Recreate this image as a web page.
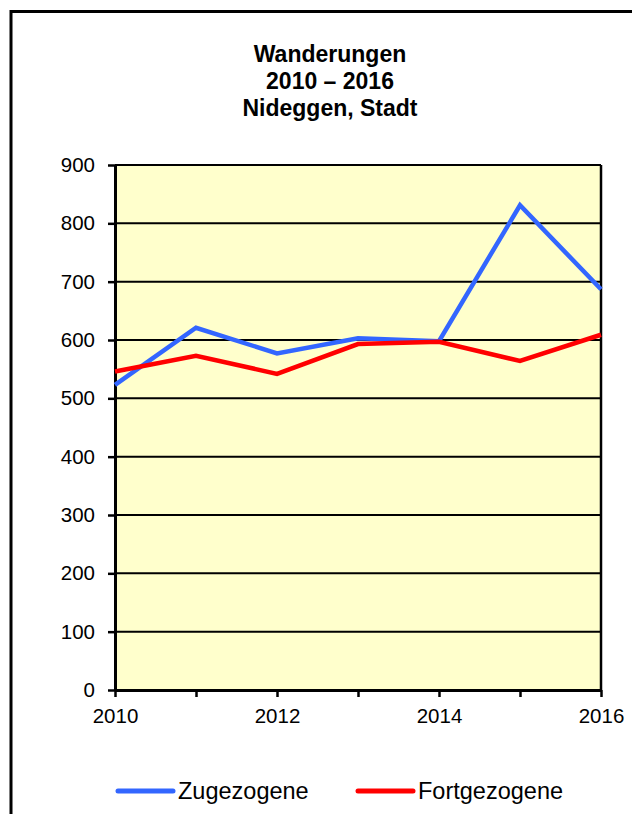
<!DOCTYPE html>
<html>
<head>
<meta charset="utf-8">
<script src="https://cdn.jsdelivr.net/npm/d3@7"></script>
<style>
  body { margin: 0; background: #fff; }
  svg text { font-family: 'Liberation Sans', Arial, sans-serif; fill: #000; }
</style>
</head>
<body>
<div id="chart"></div>
<script>
// data
const years = [2010, 2011, 2012, 2013, 2014, 2015, 2016];
const zugezogene = [523, 621, 577, 603, 598, 831, 687];
const fortgezogene = [546, 573, 542, 593, 597, 564, 609];
const yTicks = [0, 100, 200, 300, 400, 500, 600, 700, 800, 900];
const xLabels = [2010, 2012, 2014, 2016];
const titleLines = ['Wanderungen', '2010 \u2013 2016', 'Nideggen, Stadt'];
const seriesNames = ['Zugezogene', 'Fortgezogene'];
const seriesColors = ['#3366ff', '#ff0000'];

const W = 632;
const H = 814;
const plot = { left: 115, right: 601, top: 165, bottom: 690 };

const svg = d3
  .select('#chart')
  .append('svg')
  .attr('width', W)
  .attr('height', H);

// outer frame (runs off the right and bottom edge)
svg
  .append('rect')
  .attr('x', 11)
  .attr('y', 11.5)
  .attr('width', 700)
  .attr('height', 900)
  .attr('fill', 'none')
  .attr('stroke', '#000')
  .attr('stroke-width', 3);

// title
svg
  .append('g')
  .selectAll('text')
  .data(titleLines)
  .enter()
  .append('text')
  .attr('x', 330)
  .attr('y', (d, i) => 62 + i * 27)
  .attr('text-anchor', 'middle')
  .style('font-size', '23px')
  .style('font-weight', 'bold')
  .text(d => d);

const xScale = d3
  .scaleLinear()
  .domain([2010, 2016])
  .range([plot.left, plot.right]);

const yScale = d3
  .scaleLinear()
  .domain([0, 900])
  .range([plot.bottom, plot.top]);

// plot background
svg
  .append('rect')
  .attr('x', plot.left)
  .attr('y', plot.top)
  .attr('width', plot.right - plot.left)
  .attr('height', plot.bottom - plot.top)
  .attr('fill', '#ffffcc');

// horizontal grid lines
svg
  .append('g')
  .selectAll('line')
  .data(yTicks.filter(d => d > 0))
  .enter()
  .append('line')
  .attr('x1', plot.left)
  .attr('x2', plot.right)
  .attr('y1', d => yScale(d))
  .attr('y2', d => yScale(d))
  .attr('stroke', '#000')
  .attr('stroke-width', 2);

// right border of the plot area
svg
  .append('line')
  .attr('x1', plot.right)
  .attr('x2', plot.right)
  .attr('y1', plot.top)
  .attr('y2', plot.bottom)
  .attr('stroke', '#000')
  .attr('stroke-width', 2.5);

// y axis
const yAxis = svg
  .append('g')
  .attr('transform', `translate(${plot.left},0)`)
  .call(
    d3
      .axisLeft(yScale)
      .tickValues(yTicks)
      .tickSize(7)
      .tickPadding(13)
      .tickSizeOuter(0),
  );

// x axis, a tick every year but a label every other year
const xAxis = svg
  .append('g')
  .attr('transform', `translate(0,${plot.bottom})`)
  .call(
    d3
      .axisBottom(xScale)
      .tickValues(years)
      .tickSize(7)
      .tickPadding(11)
      .tickSizeOuter(0)
      .tickFormat(d => (xLabels.includes(d) ? String(d) : '')),
  );

[yAxis, xAxis].forEach(ax => {
  ax.select('.domain').attr('stroke', '#000').attr('stroke-width', 3);
  ax.selectAll('.tick line').attr('stroke', '#000').attr('stroke-width', 2.5);
  ax.selectAll('.tick text')
    .style('font-size', '20.5px')
    .style('font-family', "'Liberation Sans', Arial, sans-serif")
    .attr('fill', '#000');
});

// series lines
const line = d3
  .line()
  .x((d, i) => xScale(years[i]))
  .y(d => yScale(d));

svg
  .append('g')
  .selectAll('path')
  .data([zugezogene, fortgezogene])
  .enter()
  .append('path')
  .attr('d', line)
  .attr('fill', 'none')
  .attr('stroke', (d, i) => seriesColors[i])
  .attr('stroke-width', 4.5)
  .attr('stroke-linejoin', 'miter');

// legend
const legendX = [118, 358];
const legend = svg
  .append('g')
  .selectAll('g')
  .data(seriesNames)
  .enter()
  .append('g')
  .attr('transform', (d, i) => `translate(${legendX[i]},791)`);

legend
  .append('line')
  .attr('x1', 0)
  .attr('x2', 55)
  .attr('stroke', (d, i) => seriesColors[i])
  .attr('stroke-width', 5)
  .attr('stroke-linecap', 'round');

legend
  .append('text')
  .attr('x', 60)
  .attr('y', 7.5)
  .style('font-size', '23.5px')
  .text(d => d);
</script>
</body>
</html>
